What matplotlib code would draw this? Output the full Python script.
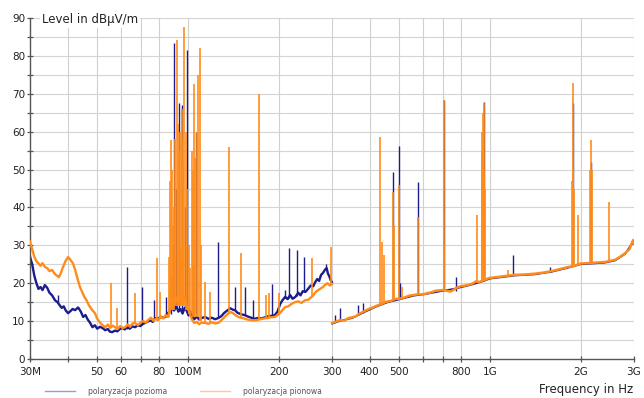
import numpy as np
import matplotlib
matplotlib.use("Agg")
import matplotlib.pyplot as plt
from matplotlib.ticker import FixedLocator, NullFormatter
from matplotlib.lines import Line2D

# ---- data (frequency in MHz, level in dBuV/m) ----
# horizontal polarisation, 30-300 MHz antenna
blue_lo_f = [30, 30.5, 31, 31.5, 32, 32.5, 33, 33.6, 34.2, 34.8, 35.5, 36.3, 37, 37.6, 38.2, 38.8,
             39.4, 40.1, 40.8, 41.5, 42.3, 43.3, 44.2, 45, 45.8, 46.6, 47.4, 48.3, 49.2, 50.1, 51.1,
             52.1, 53.2, 54.3, 55.2, 56.2, 57.3, 58.4, 59.5, 60.6, 61.8, 63, 64.2, 65.5, 66.9, 68.2,
             69.6, 71, 72.2, 73.7, 75.2, 76.5, 77.9, 79.5, 81, 82.5, 84, 85.5, 87, 88.5, 90, 91.5,
             93, 94.5, 96, 97.5, 99, 100.5, 102, 103.5, 105, 107, 109, 111, 114, 117, 120, 123, 126,
             129, 132, 135, 138, 141, 143, 146, 150, 154, 158, 162, 166, 170, 175, 180, 185, 190,
             194, 198, 202, 206, 210, 214, 218, 222, 227, 232, 236, 240, 245, 250, 255, 260, 264,
             268, 272, 276, 280, 284, 288, 291, 294, 297, 299.5]
blue_lo_v = [27, 25, 22, 20, 18.5, 19, 18.2, 19.5, 18.8, 17.5, 16.8, 15.5, 15.0, 14.2, 13.5, 13.9,
             12.8, 12.1, 12.6, 13.2, 12.9, 13.6, 12.5, 11.1, 11.6, 10.4, 9.6, 8.4, 8.9, 8.0, 8.5,
             8.2, 7.6, 7.9, 7.2, 7.1, 7.5, 7.3, 7.9, 8.2, 7.8, 8.5, 8.0, 8.6, 8.4, 8.9,
             8.7, 9.3, 9.5, 9.9, 10.2, 9.8, 10.8, 10.4, 11.2, 10.9, 11.1, 12.0, 12.5, 13.5, 12.8, 14.0,
             12.5, 13.2, 12.0, 13.5, 12.8, 11.5, 12.5, 11.0, 10.5, 11.2, 10.4, 10.8, 11.1, 10.6, 10.9, 10.5, 10.8,
             11.3, 12.2, 12.8, 13.4, 13.0, 12.9, 12.2, 11.8, 11.6, 11.2, 10.9, 10.6, 10.8, 10.7, 11.0, 11.3, 11.4,
             11.6, 12.5, 14.5, 15.6, 16.4, 15.8, 16.9, 15.9, 16.4, 17.5, 16.8, 17.9, 17.7, 18.5, 19.4, 19.2, 20.3,
             21.1, 20.6, 22.2, 22.7, 23.5, 24.0, 22.5, 21.8, 20.8, 20.3]

# horizontal polarisation, 300 MHz - 3 GHz antenna
blue_hi_f = [300.5, 320, 350, 380, 420, 460, 500, 560, 620, 700, 780, 860, 940, 1000, 1100,
             1200, 1400, 1600, 1800, 2000, 2200, 2400, 2600, 2800, 2950, 3000]
blue_hi_v = [9.3, 10.1, 10.8, 12.2, 13.8, 15.0, 15.7, 16.7, 17.2, 18.0, 18.7, 19.5, 20.4, 21.2, 21.6,
             22.0, 22.3, 23.0, 24.0, 25.0, 25.2, 25.4, 26.0, 27.7, 30.4, 30.4]

# vertical polarisation, 30-300 MHz antenna
orange_lo_f = [30, 30.5, 31, 31.5, 32, 32.5, 33, 33.6, 34.2, 34.8, 35.5, 36.3, 37, 37.4, 38, 38.6,
               39.3, 40.1, 40.8, 41.6, 42.3, 43.1, 43.9, 44.7, 45.4, 46.1, 47, 48, 49.2, 50.2, 51.2,
               52.2, 53.3, 54.3, 55.3, 56.3, 57.4, 58.5, 59.6, 60.8, 62, 63.2, 64.4, 65.6, 66.9, 68.3,
               69.7, 71.2, 72.6, 73.9, 75.4, 76.8, 78.3, 79.8, 81.3, 82.9, 84.4, 86, 87.5, 89, 91, 93,
               95, 97, 99, 101, 103, 105, 107, 109, 111, 114, 117, 120, 123, 126, 129, 132, 135, 138,
               141, 144, 148, 152, 156, 160, 165, 170, 176, 182, 188, 194, 200, 205, 210, 215, 220,
               226, 232, 238, 244, 250, 255, 260, 265, 270, 275, 280, 285, 290, 295, 299.5]
orange_lo_v = [31, 29, 27, 25.8, 25.2, 24.6, 25.3, 24.3, 24.0, 23.2, 23.5, 22.4, 21.9, 21.6, 22.8, 24.3,
               25.8, 26.9, 26.2, 25.3, 23.6, 21.2, 19.0, 17.6, 16.4, 15.6, 14.2, 13.1, 12.1, 10.5, 9.6,
               8.9, 8.4, 9.1, 8.2, 8.8, 8.4, 7.9, 8.7, 8.2, 8.4, 9.1, 8.5, 9.4, 9.5, 8.9,
               9.7, 10.0, 9.6, 10.3, 10.9, 10.1, 10.6, 10.3, 11.2, 10.7, 11.6, 11.1, 14, 16, 15, 17,
               15, 16.5, 14, 12.5, 10.5, 9.5, 9.8, 9.2, 9.6, 9.5, 9.3, 9.7, 9.4, 9.5, 10.2, 11.0, 11.8, 12.4,
               12.1, 11.5, 11.0, 10.8, 10.5, 10.3, 10.2, 10.3, 10.6, 10.8, 11.0, 11.1, 11.8, 12.8, 13.7, 13.9, 14.5,
               15.0, 15.2, 14.8, 15.5, 15.6, 16.2, 16.8, 17.7, 18.2, 18.6, 19.0, 19.6, 20.0, 19.4, 19.8]

# vertical polarisation, 300 MHz - 3 GHz antenna
orange_hi_f = [300.5, 310, 320, 330, 340, 350, 360, 370, 380, 390, 400, 410, 420, 430, 440, 450, 460,
               470, 480, 490, 500, 520, 540, 560, 580, 600, 620, 640, 660, 680, 700, 720, 740, 760,
               780, 800, 830, 860, 880, 900, 920, 940, 960, 980, 1000, 1050, 1100, 1150, 1200, 1300,
               1400, 1500, 1600, 1700, 1800, 1900, 2000, 2100, 2200, 2300, 2400, 2500, 2600, 2700,
               2800, 2900, 2950, 2980, 3000]
orange_hi_v = [9.5, 9.9, 10.3, 10.1, 10.8, 11.0, 11.3, 12.0, 12.4, 12.9, 13.3, 13.6, 14.0, 14.3, 14.6, 15.0, 15.2,
               15.3, 15.7, 15.9, 15.9, 16.2, 16.7, 16.9, 17.1, 17.0, 17.4, 17.6, 18.0, 18.1, 18.2, 18.0, 17.8, 18.3,
               18.9, 19.2, 19.4, 19.7, 20.0, 20.5, 20.3, 20.6, 20.8, 21.2, 21.4, 21.6, 21.8, 22.0, 22.2, 22.3,
               22.5, 22.8, 23.2, 23.7, 24.2, 24.6, 25.2, 25.3, 25.4, 25.5, 25.6, 25.9, 26.2, 27.0,
               27.9, 29.0, 30.6, 31.4, 30.6]

# narrowband emissions: frequency, level at foot, level at peak
blue_spk_f = [37.0, 62.7, 70.7, 77.5, 84.5, 88.2, 89.5, 90.2, 91.0, 93.5, 95.5, 97.5, 99.6, 106.5, 104,
              126, 143, 154, 164.5, 190, 210, 216, 230, 242, 286,
              307, 320, 365, 380, 477, 499, 505, 552, 577, 704, 775, 953, 1190, 1580, 1890, 2160]
blue_spk_lo = [15, 8, 9, 10.5, 11, 12, 13, 14, 14, 13, 13, 13, 13, 12, 11,
               10.8, 13, 11.6, 10.6, 11.4, 16, 16, 16.5, 17.8, 23.5,
               9.8, 10.3, 11.5, 12.2, 15.5, 15.9, 16, 16.8, 17, 18.2, 18, 20.6, 22.2, 23, 24.5, 25.3]
blue_spk_hi = [16.9, 24.3, 19, 15.6, 16.4, 22, 30, 83.5, 45, 67.5, 67, 40, 81.5, 60, 25,
               30.9, 19, 19, 15.6, 19.8, 18.2, 29.3, 28.8, 26.9, 25,
               11.6, 13.5, 14.2, 14.8, 49.4, 56.2, 20, 16.9, 46.8, 68.3, 21.6, 67.8, 27.4, 24.4, 67.6, 52]

orange_spk_f = [55.6, 58.2, 66.9, 79.3, 80.8, 86.5, 87.3, 88.1, 88.6, 89.2, 90.0, 90.8, 91.8, 92.5, 93.2,
                94.0, 95.0, 95.5, 95.8, 96.5, 97.3, 98.2, 99.0, 100.5, 101.5, 102.8, 103.8, 104.9,
                105.8, 106.8, 107.8, 109.3, 110.2, 114, 118, 136.4, 150, 172, 181, 186, 200, 258, 298,
                434, 438, 445, 477, 483, 499, 510, 577, 704, 706, 903, 941, 945, 950, 953, 958, 963,
                1150, 1870, 1880, 1890, 1900, 1960, 2140, 2160, 2180, 2480]
orange_spk_lo = [8.5, 8.3, 9.4, 10.3, 10.5, 11, 12, 13, 13, 13, 13, 14, 14, 14, 14,
                 14, 14, 14, 14, 14, 14, 13, 13, 12, 12, 12, 11, 11,
                 11, 11, 11, 10, 10, 9.5, 9.3, 11.8, 11, 10.3, 10.8, 10.9, 11.8, 16.5, 19.6,
                 14.4, 14.5, 14.6, 15.5, 15.6, 15.9, 16, 17, 18.2, 18.2, 20.5, 20.6, 20.6, 20.6, 20.6, 20.8, 20.8,
                 22, 24.4, 24.5, 24.5, 24.6, 25.1, 25.3, 25.3, 25.4, 25.7]
orange_spk_hi = [20, 13.5, 17.4, 26.6, 17.7, 27, 47, 57.8, 50, 35, 40, 58, 84.2, 62, 55,
                 60, 29.6, 66, 58, 52, 87.7, 60, 45, 30, 24, 55, 50, 72.5,
                 53, 60, 75, 82, 30, 20.3, 17.7, 56, 28, 70, 17, 17.4, 17.4, 26.6, 29.6,
                 58.7, 30.9, 27.4, 44, 35, 45.9, 19, 37.5, 68.3, 30, 38, 55, 60, 65, 67.6, 50, 45,
                 23.5, 47, 50, 72.9, 45, 38, 50, 57.8, 50, 41.5]

x_ticks = [30, 40, 50, 60, 70, 80, 100, 200, 300, 400, 500, 600, 700, 800, 1000, 2000, 3000]
x_ticklabels = ["30M", "", "50", "60", "", "80", "100M", "200", "300", "400", "500", "", "", "800",
                "1G", "2G", "3G"]

BLUE = "#1c1c8a"
ORANGE = "#ff8c1a"

fig = plt.figure(figsize=(6.44, 3.98), dpi=100)
ax = fig.add_axes([30 / 644, 39 / 398, 604 / 644, 341 / 398])

# grid
for y in range(5, 95, 5):
    ax.axhline(y, color="#d4d4d4", lw=0.8, zorder=0)
for x in x_ticks[1:]:
    ax.axvline(x, color="#d0d0d0", lw=0.8, zorder=0)

# traces
ax.plot(blue_lo_f, blue_lo_v, color=BLUE, lw=1.7, zorder=2)
ax.plot(blue_hi_f, blue_hi_v, color=BLUE, lw=1.2, zorder=2)
ax.vlines(blue_spk_f, blue_spk_lo, blue_spk_hi, color=BLUE, lw=1.0, zorder=2.5)
ax.plot(orange_lo_f, orange_lo_v, color=ORANGE, lw=1.7, zorder=3)
ax.plot(orange_hi_f, orange_hi_v, color=ORANGE, lw=1.8, zorder=3)
ax.vlines(orange_spk_f, orange_spk_lo, orange_spk_hi, color=ORANGE, lw=1.2, zorder=3)

ax.set_xscale("log")
ax.set_xlim(30, 3000)
ax.set_ylim(0, 90)
ax.xaxis.set_major_locator(FixedLocator(x_ticks))
ax.xaxis.set_minor_locator(FixedLocator([]))
ax.set_xticklabels(x_ticklabels)
ax.xaxis.set_minor_formatter(NullFormatter())
ax.set_yticks(range(0, 100, 10))
ax.set_yticks(range(5, 90, 10), minor=True)

for s in ["top", "right"]:
    ax.spines[s].set_visible(False)
for s in ["left", "bottom"]:
    ax.spines[s].set_color("#555555")
    ax.spines[s].set_linewidth(1.0)

ax.tick_params(axis="both", which="both", direction="inout", length=5, width=0.9,
               color="#555555", labelsize=7.5, labelcolor="#222222")
ax.tick_params(axis="y", which="major", pad=1)
ax.tick_params(axis="x", which="major", pad=3)

ax.text(0.02, 0.995, "Level in dB\u00b5V/m", transform=ax.transAxes,
        fontsize=8.5, color="#222222", va="center", ha="left",
        bbox=dict(facecolor="white", edgecolor="none", pad=1.5), zorder=5)
fig.text(633 / 644, 1 - 390 / 398, "Frequency in Hz", fontsize=8.5, color="#222222",
         ha="right", va="center")

# legend
fig.add_artist(Line2D([45 / 644, 75 / 644], [1 - 391 / 398] * 2, color="#9a9ad0", lw=1.0))
fig.text(88 / 644, 1 - 391 / 398, "polaryzacja pozioma", fontsize=5.5, color="#555555", va="center")
fig.add_artist(Line2D([200 / 644, 230 / 644], [1 - 391 / 398] * 2, color="#ffc995", lw=1.0))
fig.text(243 / 644, 1 - 391 / 398, "polaryzacja pionowa", fontsize=5.5, color="#555555", va="center")

fig.savefig("out.png", dpi=100)
